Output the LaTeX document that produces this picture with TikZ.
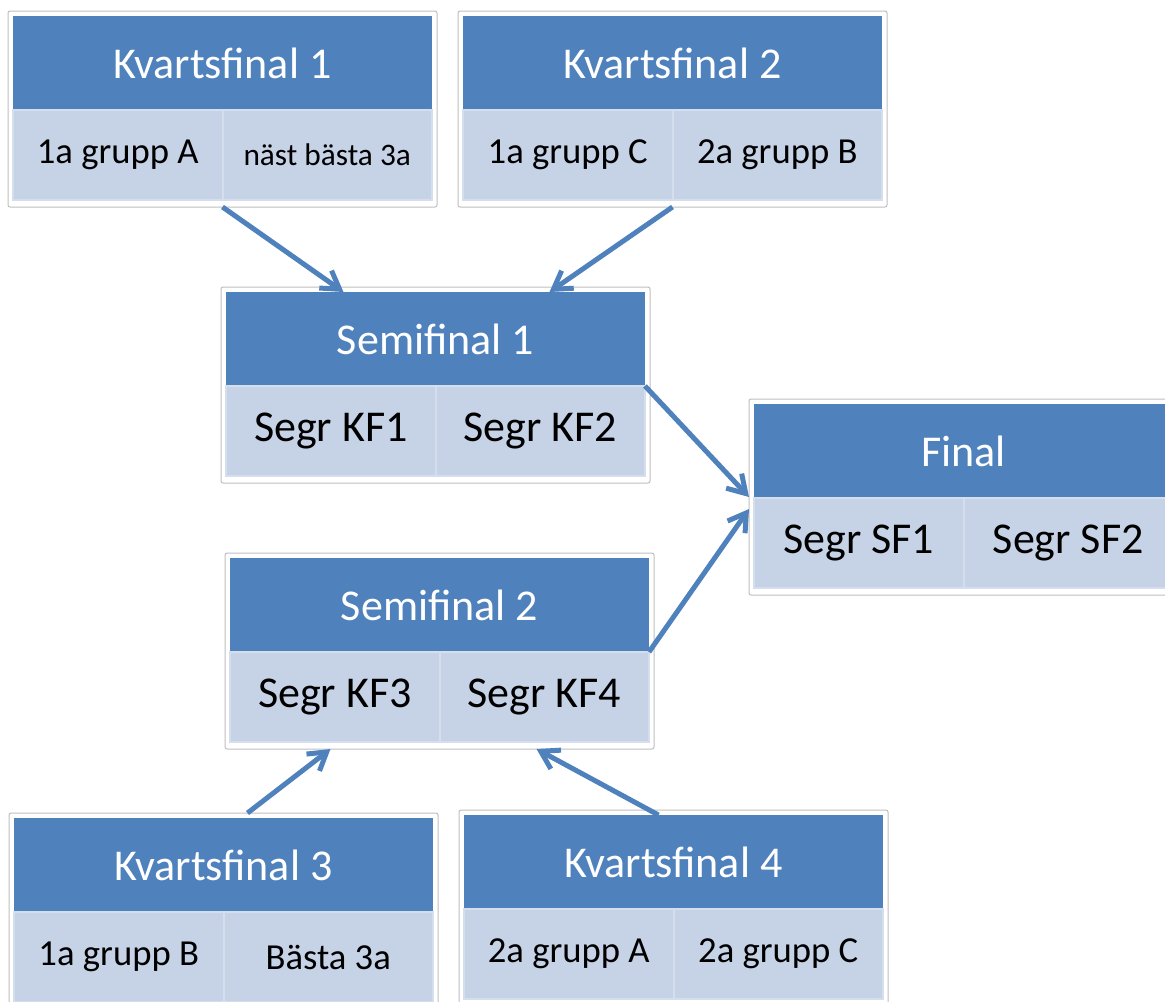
\documentclass[tikz,border=0pt]{standalone}
\usepackage{fontspec}
\setmainfont{Carlito}
\usetikzlibrary{arrows.meta}

\definecolor{headblue}{RGB}{79,129,189}
\definecolor{cellblue}{RGB}{198,210,230}
\definecolor{celledge}{RGB}{213,222,237}
\definecolor{framegray}{RGB}{191,191,191}

% one pixel of the layout
\def\px{0.75pt}
\newcommand\hdfont{\fontsize{33}{40}\selectfont}
\newcommand\grfont{\fontsize{27.5}{33}\selectfont}
\newcommand\smgrfont{\fontsize{23.5}{28}\selectfont}

\begin{document}
\begin{tikzpicture}[
  % coordinates are pixels, y runs downward
  x=\px,
  y=-\px,
  frame/.style={draw=framegray, line width=1*\px, fill=white, rounded corners=2*\px,
    minimum width=429*\px, minimum height=196*\px, inner sep=0pt, outer sep=0pt},
  head/.style={fill=headblue, text=white, font=\hdfont,
    minimum width=419*\px, minimum height=94*\px, inner sep=0pt, outer sep=0pt},
  cell/.style={fill=cellblue, draw=celledge, line width=2*\px, font=\grfont,
    minimum width=209.5*\px, minimum height=90*\px, inner sep=0pt, outer sep=0pt},
  segr/.style={cell, font=\hdfont},
  link/.style={draw=headblue, line width=5*\px,
    -{Straight Barb[length=13pt, width=16pt, line width=5*\px]}}
]

\useasboundingbox (0,0) rectangle (1165,1001);

% 1) Kvartsfinal 1
\node[frame, anchor=north west] (kf1) at (8,11) {};
\node[head, anchor=north] (kf1h) at ([yshift=-5*\px]kf1.north) {Kvartsfinal 1};
\node[cell, anchor=north west] (kf1a) at (kf1h.south west) {1a grupp A};
\node[cell, anchor=north east, font=\smgrfont] (kf1b) at (kf1h.south east) {näst bästa 3a};

% 2) Kvartsfinal 2
\node[frame, anchor=north west] (kf2) at (458,11) {};
\node[head, anchor=north] (kf2h) at ([yshift=-5*\px]kf2.north) {Kvartsfinal 2};
\node[cell, anchor=north west] (kf2a) at (kf2h.south west) {1a grupp C};
\node[cell, anchor=north east] (kf2b) at (kf2h.south east) {2a grupp B};

% 3) Semifinal 1
\node[frame, anchor=north west] (sf1) at (221,287) {};
\node[head, anchor=north] (sf1h) at ([yshift=-5*\px]sf1.north) {Semifinal 1};
\node[segr, anchor=north west] (sf1a) at (sf1h.south west) {Segr KF1};
\node[segr, anchor=north east] (sf1b) at (sf1h.south east) {Segr KF2};

% 4) Final (runs off the right edge)
\node[frame, anchor=north west] (fin) at (749,399) {};
\node[head, anchor=north] (finh) at ([yshift=-5*\px]fin.north) {Final};
\node[segr, anchor=north west] (fina) at (finh.south west) {Segr SF1};
\node[segr, anchor=north east] (finb) at (finh.south east) {Segr SF2};

% 5) Semifinal 2
\node[frame, anchor=north west] (sf2) at (225,553) {};
\node[head, anchor=north] (sf2h) at ([yshift=-5*\px]sf2.north) {Semifinal 2};
\node[segr, anchor=north west] (sf2a) at (sf2h.south west) {Segr KF3};
\node[segr, anchor=north east] (sf2b) at (sf2h.south east) {Segr KF4};

% 6) Kvartsfinal 3 (runs off the bottom edge)
\node[frame, anchor=north west] (kf3) at (9,813) {};
\node[head, anchor=north] (kf3h) at ([yshift=-5*\px]kf3.north) {Kvartsfinal 3};
\node[cell, anchor=north west] (kf3a) at (kf3h.south west) {1a grupp B};
\node[cell, anchor=north east] (kf3b) at (kf3h.south east) {Bästa 3a};

% 7) Kvartsfinal 4
\node[frame, anchor=north west] (kf4) at (459,810) {};
\node[head, anchor=north] (kf4h) at ([yshift=-5*\px]kf4.north) {Kvartsfinal 4};
\node[cell, anchor=north west] (kf4a) at (kf4h.south west) {2a grupp A};
\node[cell, anchor=north east] (kf4b) at (kf4h.south east) {2a grupp C};

% Winners move on
\draw[link] (kf1.south) -- ([xshift=-92*\px]sf1h.north);
\draw[link] (kf2.south) -- ([xshift=114*\px]sf1h.north);
\draw[link] (sf1h.south east) -- (fin.west);
\draw[link] (sf2h.south east) -- ([yshift=-12*\px]fin.west);
\draw[link] ([xshift=24*\px]kf3.north) -- ([xshift=-109*\px]sf2.south);
\draw[link] ([xshift=-15*\px]kf4h.north) -- ([xshift=97*\px]sf2.south);

\end{tikzpicture}
\end{document}
